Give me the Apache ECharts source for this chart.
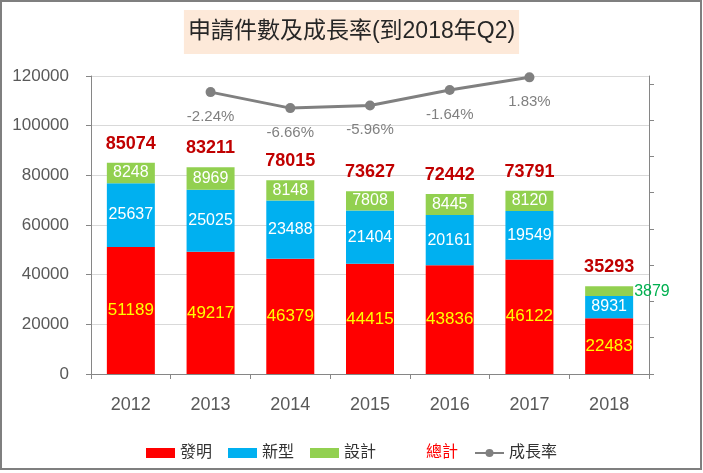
<!DOCTYPE html>
<html>
<head>
<meta charset="utf-8">
<script src="https://cdn.jsdelivr.net/npm/echarts@6/dist/echarts.min.js"></script>
<style>html,body{margin:0;padding:0;background:#fff;}#c{width:703px;height:473px;}</style>
</head>
<body>
<div id="c"></div>
<script>
var years = ['2012', '2013', '2014', '2015', '2016', '2017', '2018'];
var invention = [51189, 49217, 46379, 44415, 43836, 46122, 22483];
var utility = [25637, 25025, 23488, 21404, 20161, 19549, 8931];
var design = [8248, 8969, 8148, 7808, 8445, 8120, 3879];
var total = [85074, 83211, 78015, 73627, 72442, 73791, 35293];
var growth = ['-', -2.24, -6.66, -5.96, -1.64, 1.83, '-'];
var leftTicks = [0, 20000, 40000, 60000, 80000, 100000, 120000];
var rightTicks = [-80, -70, -60, -50, -40, -30, -20, -10, 0];

var FONT = '"Liberation Sans", Arial, "Noto Sans CJK TC", sans-serif';
var chart = echarts.init(document.getElementById('c'));

var designData = design.map(function (v, i) {
  if (i === design.length - 1) {
    return { value: v, label: { position: 'right', distance: 1, color: '#00b050' } };
  }
  return v;
});

chart.setOption({
  animation: false,
  textStyle: { fontFamily: FONT },
  title: {
    text: '申請件數及成長率(到2018年Q2)',
    left: 'center',
    top: 10,
    backgroundColor: '#fde9d9',
    padding: [10, 4, 10, 4],
    textStyle: { fontSize: 23, fontWeight: 'normal', color: '#262626', fontFamily: FONT, lineHeight: 24 }
  },
  graphic: [{
    type: 'rect',
    shape: { x: 1, y: 1, width: 700, height: 468 },
    style: { fill: 'none', stroke: '#7f7f7f', lineWidth: 2 },
    silent: true
  }],
  legend: {
    left: 'center',
    top: 440,
    itemWidth: 29,
    itemHeight: 10,
    itemGap: 16,
    textStyle: { fontSize: 16, color: '#333333', fontFamily: FONT },
    data: [
      { name: '發明', icon: 'rect' },
      { name: '新型', icon: 'rect' },
      { name: '設計', icon: 'rect' },
      { name: '總計', icon: 'rect', itemStyle: { color: 'rgba(0,0,0,0)', borderWidth: 0, opacity: 0 }, lineStyle: { opacity: 0 }, textStyle: { color: '#ff0000' } },
      { name: '成長率' }
    ]
  },
  grid: { left: 91, right: 54, top: 76, bottom: 99, containLabel: false },
  xAxis: {
    type: 'category',
    data: years,
    boundaryGap: true,
    axisLine: { lineStyle: { color: '#868686', width: 1 } },
    axisTick: { show: true, length: 5, lineStyle: { color: '#868686' } },
    axisLabel: { fontSize: 18, color: '#595959', margin: 22 }
  },
  yAxis: [{
    type: 'value',
    min: 0,
    max: 120000,
    interval: 20000,
    axisLine: { show: true, lineStyle: { color: '#868686' } },
    axisTick: { show: true, length: 5, lineStyle: { color: '#868686' } },
    axisLabel: { fontSize: 17, color: '#595959', margin: 22, formatter: function (v) { return String(v); } },
    splitLine: { lineStyle: { color: '#d9d9d9', width: 1 } }
  }, {
    type: 'value',
    position: 'right',
    min: -80,
    max: 2.2,
    axisLine: { show: true, lineStyle: { color: '#868686' } },
    axisTick: { show: true, length: 5, lineStyle: { color: '#868686' }, customValues: rightTicks },
    axisLabel: { show: false, customValues: rightTicks },
    splitLine: { show: false }
  }],
  series: [{
    name: '發明',
    type: 'bar',
    stack: 'a',
    barWidth: 48,
    data: invention,
    itemStyle: { color: '#ff0000' },
    label: { show: true, position: 'inside', color: '#ffff00', fontSize: 17 }
  }, {
    name: '新型',
    type: 'bar',
    stack: 'a',
    barWidth: 48,
    data: utility,
    itemStyle: { color: '#00b0f0' },
    label: { show: true, position: 'inside', color: '#ffffff', fontSize: 16 }
  }, {
    name: '設計',
    type: 'bar',
    stack: 'a',
    barWidth: 48,
    data: designData,
    itemStyle: { color: '#92d050' },
    label: { show: true, position: 'inside', color: '#ffffff', fontSize: 16 }
  }, {
    name: '總計',
    type: 'line',
    data: total,
    symbol: 'circle',
    symbolSize: 0,
    itemStyle: { color: 'rgba(0,0,0,0)' },
    lineStyle: { opacity: 0 },
    label: { show: true, position: 'top', distance: 10, color: '#c00000', fontSize: 18, fontWeight: 'bold' },
    z: 5
  }, {
    name: '成長率',
    type: 'line',
    yAxisIndex: 1,
    data: growth,
    symbol: 'circle',
    symbolSize: 10,
    itemStyle: { color: '#808080' },
    lineStyle: { color: '#808080', width: 3 },
    label: {
      show: true, position: 'bottom', distance: 12, color: '#808080', fontSize: 15,
      formatter: function (p) { return p.value.toFixed(2) + '%'; }
    },
    z: 6
  }]
});
</script>
</body>
</html>
